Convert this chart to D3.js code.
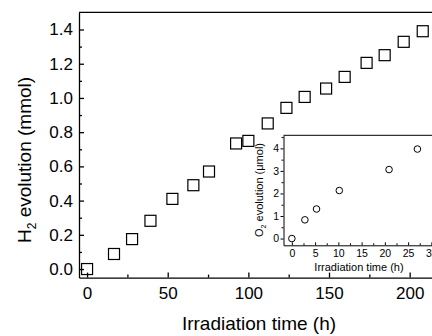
<!DOCTYPE html>
<html>
<head>
<meta charset="utf-8">
<script src="https://cdn.jsdelivr.net/npm/d3@7"></script>
<style>
  html, body { margin: 0; padding: 0; background: #fff; overflow: hidden; }
  svg { display: block; font-family: "Liberation Sans", Arial, sans-serif; }
</style>
</head>
<body>
<script>
(function () {
  'use strict';

  // main series: H2 evolution
  const h2Time = [0, 16.7, 27.9, 39.3, 52.9, 65.9, 75.6, 92.4, 100, 112, 123.6, 134.9, 148.2, 159.7, 173.3, 184.5, 196.3, 208.1];
  const h2Value = [0, 0.088, 0.175, 0.282, 0.41, 0.49, 0.57, 0.734, 0.749, 0.851, 0.942, 1.006, 1.055, 1.123, 1.205, 1.25, 1.328, 1.39];
  const xTicks = [0, 50, 100, 150, 200];
  const yTicks = [0, 0.2, 0.4, 0.6, 0.8, 1.0, 1.2, 1.4];

  // inset series: O2 evolution
  const o2Time = [0, 2.8, 5.3, 10.2, 20.9, 27.0];
  const o2Value = [0, 0.83, 1.31, 2.13, 3.06, 3.97];
  const insetXTicks = [0, 5, 10, 15, 20, 25, 30];
  const insetYTicks = [0, 1, 2, 3, 4];

  var width = 432, height = 336;

  var svg = d3.select("body").append("svg")
    .attr("width", width)
    .attr("height", height);

  // ---- main plot ----
  var x = d3.scaleLinear().domain([-5, 225]).range([79, 79 + 230 * 1.613]);
  var y = d3.scaleLinear().domain([-0.05, 1.5]).range([277.6, 12.4]);

  var fmt = d3.format(".1f");

  // minor ticks
  svg.append("g")
    .attr("transform", "translate(0," + y(-0.05) + ")")
    .call(d3.axisBottom(x).tickValues([25, 75, 125, 175, 225]).tickSize(-3).tickFormat(""))
    .call(g => g.select(".domain").remove());
  svg.append("g")
    .attr("transform", "translate(" + x(-5) + ",0)")
    .call(d3.axisLeft(y).tickValues([0.1, 0.3, 0.5, 0.7, 0.9, 1.1, 1.3]).tickSize(-3).tickFormat(""))
    .call(g => g.select(".domain").remove());

  var xAxis = svg.append("g")
    .attr("transform", "translate(0," + y(-0.05) + ")")
    .call(d3.axisBottom(x).tickValues(xTicks).tickSize(-5).tickSizeOuter(0).tickPadding(9));
  xAxis.selectAll("text").attr("font-size", "17px").attr("fill", "#000");

  var yAxis = svg.append("g")
    .attr("transform", "translate(" + x(-5) + ",0)")
    .call(d3.axisLeft(y).tickValues(yTicks).tickFormat(fmt).tickSize(-5).tickSizeOuter(0).tickPadding(6));
  yAxis.selectAll("text").attr("font-size", "17px").attr("fill", "#000");

  svg.selectAll(".domain, .tick line").attr("stroke", "#000").attr("stroke-width", 1.3);

  // top spine
  svg.append("line")
    .attr("x1", x(-5)).attr("x2", x(225))
    .attr("y1", y(1.5)).attr("y2", y(1.5))
    .attr("stroke", "#000").attr("stroke-width", 1.3);

  svg.append("g").selectAll("rect")
    .data(h2Time)
    .enter().append("rect")
    .attr("x", function (d) { return x(d) - 5.5; })
    .attr("y", function (d, i) { return y(h2Value[i]) - 5.5; })
    .attr("width", 11)
    .attr("height", 11)
    .attr("fill", "none")
    .attr("stroke", "#000")
    .attr("stroke-width", 1.2);

  svg.append("text")
    .attr("x", 259).attr("y", 330)
    .attr("text-anchor", "middle")
    .attr("font-size", "19px")
    .text("Irradiation time (h)");

  var yt = svg.append("text")
    .attr("transform", "translate(31,160) rotate(-90)")
    .attr("text-anchor", "middle")
    .attr("font-size", "19px");
  yt.append("tspan").text("H");
  yt.append("tspan").attr("font-size", "12px").attr("dy", 5).text("2");
  yt.append("tspan").attr("dy", -5).text(" evolution (mmol)");

  // ---- inset ----
  var ix = d3.scaleLinear().domain([-1.8, 33]).range([283.5, 283.5 + 34.8 * 4.65]);
  var iy = d3.scaleLinear().domain([-0.3, 4.58]).range([245.3, 135.3]);

  svg.append("rect")
    .attr("x", ix(-1.8)).attr("y", iy(4.58))
    .attr("width", width).attr("height", iy(-0.3) - iy(4.58))
    .attr("fill", "#fff");

  svg.append("g")
    .attr("transform", "translate(0," + iy(-0.3) + ")")
    .call(d3.axisBottom(ix).tickValues([2.5, 7.5, 12.5, 17.5, 22.5, 27.5, 32.5]).tickSize(-2).tickFormat(""))
    .call(g => g.select(".domain").remove());
  svg.append("g")
    .attr("transform", "translate(" + ix(-1.8) + ",0)")
    .call(d3.axisLeft(iy).tickValues([0.5, 1.5, 2.5, 3.5, 4.5]).tickSize(2).tickFormat(""))
    .call(g => g.select(".domain").remove());

  var ixAxis = svg.append("g")
    .attr("class", "inset")
    .attr("transform", "translate(0," + iy(-0.3) + ")")
    .call(d3.axisBottom(ix).tickValues(insetXTicks).tickFormat(d3.format("d")).tickSize(-3).tickSizeOuter(0).tickPadding(4));
  ixAxis.selectAll("text").attr("font-size", "10.5px").attr("fill", "#000");

  var iyAxis = svg.append("g")
    .attr("class", "inset")
    .attr("transform", "translate(" + ix(-1.8) + ",0)")
    .call(d3.axisLeft(iy).tickValues(insetYTicks).tickFormat(d3.format("d")).tickSize(3).tickSizeOuter(0).tickPadding(1.5));
  iyAxis.selectAll("text").attr("font-size", "10.5px").attr("fill", "#000");

  svg.selectAll(".inset .domain, .inset .tick line").attr("stroke", "#000").attr("stroke-width", 1);

  svg.append("line")
    .attr("x1", ix(-1.8)).attr("x2", width)
    .attr("y1", iy(4.58)).attr("y2", iy(4.58))
    .attr("stroke", "#000").attr("stroke-width", 1);

  svg.append("g").selectAll("circle")
    .data(o2Time)
    .enter().append("circle")
    .attr("cx", function (d) { return ix(d); })
    .attr("cy", function (d, i) { return iy(o2Value[i]); })
    .attr("r", 3.3)
    .attr("fill", "none")
    .attr("stroke", "#000")
    .attr("stroke-width", 1);

  svg.append("text")
    .attr("x", 359).attr("y", 270.5)
    .attr("text-anchor", "middle")
    .attr("font-size", "11px")
    .text("Irradiation time (h)");

  var it = svg.append("text")
    .attr("transform", "translate(263,190) rotate(-90)")
    .attr("text-anchor", "middle")
    .attr("font-size", "11px");
  it.append("tspan").text("O");
  it.append("tspan").attr("font-size", "7px").attr("dy", 3).text("2");
  it.append("tspan").attr("dy", -3).text(" evolution (\u03bcmol)");
})();
</script>
</body>
</html>
